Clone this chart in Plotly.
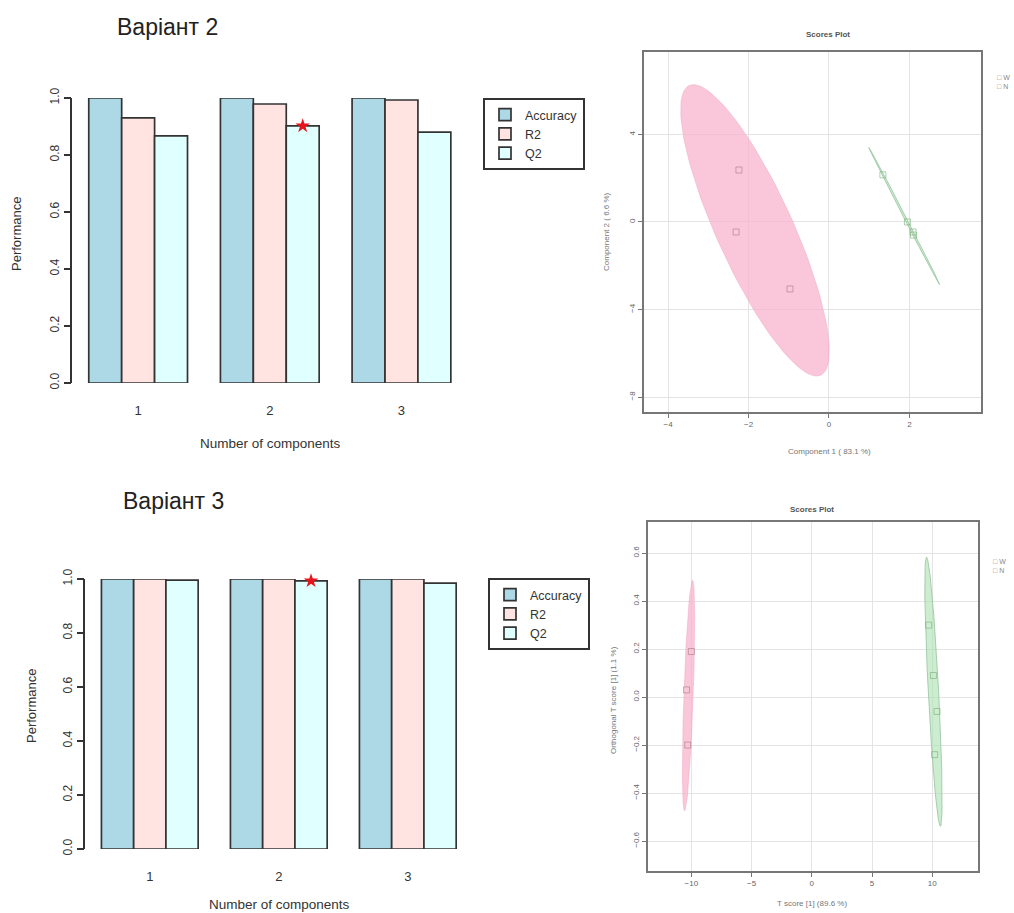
import numpy as np
import plotly.graph_objects as go

W, H = 1014, 913

# ---------------- data ----------------
components = [1, 2, 3]
series_names = ["Accuracy", "R2", "Q2"]
series_colors = ["#ADD8E6", "#FFE4E1", "#E0FFFF"]

v2_accuracy = [1.0, 1.0, 1.0]
v2_r2 = [0.930, 0.979, 0.993]
v2_q2 = [0.867, 0.902, 0.880]
v2_best = 2

v3_accuracy = [1.0, 1.0, 1.0]
v3_r2 = [1.0, 1.0, 1.0]
v3_q2 = [0.996, 0.993, 0.985]
v3_best = 2

# PCA scores (Variant 2)
pca_pink_x = [-2.24, -2.31, -0.97]
pca_pink_y = [2.37, -0.46, -3.06]
pca_green_x = [1.34, 2.09, 1.95, 2.10]
pca_green_y = [2.15, -0.46, 0.00, -0.60]

# OPLS-DA scores (Variant 3)
opls_pink_x = [-10.0, -10.4, -10.3]
opls_pink_y = [0.19, 0.03, -0.20]
opls_green_x = [9.7, 10.1, 10.4, 10.2]
opls_green_y = [0.30, 0.09, -0.06, -0.24]

group_names = ["W", "N"]

pca_xticks = [-4, -2, 0, 2]
pca_yticks = [4, 0, -4, -8]
opls_xticks = [-10, -5, 0, 5, 10]
opls_yticks = [0.6, 0.4, 0.2, 0.0, -0.2, -0.4, -0.6]

# ---------------- helpers ----------------
def hx(a, b):
    return [a / W, b / W]

def vy(top, bottom):
    return [1 - bottom / H, 1 - top / H]

def conf_ellipse(xs, ys, k=2.45, n=120):
    pts = np.vstack([xs, ys])
    m = pts.mean(axis=1)
    c = np.cov(pts)
    vals, vecs = np.linalg.eigh(c)
    vals = np.clip(vals, 1e-9, None)
    t = np.linspace(0, 2 * np.pi, n)
    circ = np.vstack([np.cos(t), np.sin(t)])
    e = m[:, None] + k * vecs @ (np.sqrt(vals)[:, None] * circ)
    return e[0], e[1]

FONT = "Liberation Sans, Arial, sans-serif"
DARK = "#333333"

fig = go.Figure()
BARGAP = 0.25

# ---------------- bar charts ----------------
def add_bars(vals_list, xa, ya, leg, best):
    for name, vals, col in zip(series_names, vals_list, series_colors):
        fig.add_trace(go.Bar(
            x=components, y=vals, name=name, marker_color=col,
            marker_line_color=DARK, marker_line_width=1.7,
            xaxis=xa, yaxis=ya, legend=leg, showlegend=True))
    bw = (1 - BARGAP) / len(series_names)
    qi = len(series_names) - 1
    xs = best + (qi - (len(series_names) - 1) / 2) * bw
    fig.add_trace(go.Scatter(
        x=[xs], y=[vals_list[qi][best - 1]], mode="markers",
        marker=dict(symbol="star", size=11, color="#E8141B"),
        xaxis=xa, yaxis=ya, showlegend=False, cliponaxis=False, hoverinfo="skip"))

add_bars([v2_accuracy, v2_r2, v2_q2], "x", "y", "legend", v2_best)
add_bars([v3_accuracy, v3_r2, v3_q2], "x2", "y2", "legend2", v3_best)

# ---------------- score plots ----------------
PINK_FILL = "rgba(247,180,204,0.75)"
GREEN_FILL = "rgba(170,225,175,0.6)"

def add_scores(px_, py_, gx, gy, xa, ya):
    for (xs, ys, fill, line, pcol, nm) in [
        (px_, py_, PINK_FILL, "rgba(240,170,195,0.5)", "rgba(170,120,135,0.6)", group_names[0]),
        (gx, gy, GREEN_FILL, "rgba(150,195,160,0.8)", "rgba(120,175,120,0.6)", group_names[1]),
    ]:
        ex, ey = conf_ellipse(xs, ys)
        fig.add_trace(go.Scatter(x=ex, y=ey, mode="lines", fill="toself",
                                 fillcolor=fill, line=dict(color=line, width=1),
                                 xaxis=xa, yaxis=ya, showlegend=False, hoverinfo="skip"))
        fig.add_trace(go.Scatter(x=xs, y=ys, mode="markers", name=nm,
                                 marker=dict(symbol="square-open", size=6, color=pcol,
                                             line=dict(width=1)),
                                 xaxis=xa, yaxis=ya, showlegend=False))

add_scores(pca_pink_x, pca_pink_y, pca_green_x, pca_green_y, "x3", "y3")
add_scores(opls_pink_x, opls_pink_y, opls_green_x, opls_green_y, "x4", "y4")

# ---------------- axes ----------------
bar_x = dict(range=[0.5, 3.5], tickvals=components, ticktext=[str(c) for c in components],
             showline=False, showgrid=False, zeroline=False, ticks="",
             tickfont=dict(family=FONT, size=13, color=DARK), ticklabelstandoff=18)
bar_y = dict(range=[0, 1], tickvals=[0, 0.2, 0.4, 0.6, 0.8, 1.0],
             ticktext=["0.0", "0.2", "0.4", "0.6", "0.8", "1.0"],
             showline=True, linecolor=DARK, linewidth=1.5, ticks="outside", ticklen=7,
             tickcolor=DARK, tickwidth=1.5, showgrid=False, zeroline=False, tickangle=-90,
             tickfont=dict(family=FONT, size=12, color=DARK))

sc_common = dict(showline=True, mirror=True, linecolor="#777777", linewidth=1.5,
                 showgrid=True, gridcolor="#e4e4e4", gridwidth=1, zeroline=False,
                 ticks="outside", ticklen=4, tickcolor="#777777",
                 tickfont=dict(family=FONT, size=8, color="#666666"))

leg_common = dict(xanchor="left", yanchor="top", bgcolor="white", bordercolor=DARK,
                  borderwidth=2, font=dict(family=FONT, size=12.5, color=DARK),
                  tracegroupgap=0, itemwidth=30)

fig.update_layout(
    width=W, height=H, margin=dict(l=0, r=0, t=0, b=0, autoexpand=False),
    paper_bgcolor="white", plot_bgcolor="white",
    barmode="group", bargap=BARGAP, bargroupgap=0,
    font=dict(family=FONT, color=DARK),
    xaxis=dict(domain=hx(72.3, 467.3), anchor="y", **bar_x),
    yaxis=dict(domain=vy(98, 383), anchor="x", **bar_y),
    xaxis2=dict(domain=hx(85.3, 472.3), anchor="y2", **bar_x),
    yaxis2=dict(domain=vy(579, 849), anchor="x2", **bar_y),
    xaxis3=dict(domain=hx(644, 981), anchor="y3", range=[-4.60, 3.78], tickvals=pca_xticks, **sc_common),
    yaxis3=dict(domain=vy(52, 412), anchor="x3", range=[-8.68, 7.76], tickvals=pca_yticks,
                tickangle=-90, **sc_common),
    xaxis4=dict(domain=hx(648, 978), anchor="y4", range=[-13.6, 13.8], tickvals=opls_xticks, **sc_common),
    yaxis4=dict(domain=vy(522, 871), anchor="x4", range=[-0.725, 0.73], tickvals=opls_yticks,
                tickformat=".1f", tickangle=-90, **sc_common),
    legend=dict(x=483 / W, y=1 - 98 / H, **leg_common),
    legend2=dict(x=488 / W, y=1 - 578 / H, **leg_common),
)

ann = []
def txt(x, y, s, size, color=DARK, angle=0, bold=False, xanchor="center"):
    ann.append(dict(x=x / W, y=1 - y / H, xref="paper", yref="paper",
                    text=("<b>%s</b>" % s) if bold else s, showarrow=False,
                    textangle=angle, xanchor=xanchor, yanchor="middle",
                    font=dict(family=FONT, size=size, color=color)))

txt(167, 27, "Варіант 2", 23, "#222222")
txt(173, 501, "Варіант 3", 23, "#222222")
txt(270, 443, "Number of components", 13.5)
txt(279, 904, "Number of components", 13.5)
txt(17, 234, "Performance", 13, angle=-90)
txt(31, 706, "Performance", 13, angle=-90)

txt(828, 35, "Scores Plot", 8, "#555555", bold=True)
txt(812, 509, "Scores Plot", 8, "#555555", bold=True)
txt(829, 452, "Component 1 ( 83.1 %)", 8, "#777777")
txt(606, 232, "Component 2 ( 6.6 %)", 8, "#777777", angle=-90)
txt(812, 903, "T score [1] (89.6 %)", 8, "#777777")
txt(613, 700, "Orthogonal T score [1] (1.1 %)", 8, "#777777", angle=-90)

# small group legends of the score plots
for i, nm in enumerate(group_names):
    txt(995, 78 + 8 * i, "□ " + nm, 7, "#888888", xanchor="left")
    txt(991, 561 + 9 * i, "□ " + nm, 7, "#888888", xanchor="left")

fig.update_layout(annotations=ann)
fig.write_html("out.html", config={"displayModeBar": False},
               post_script="document.body.style.margin='0px';")
